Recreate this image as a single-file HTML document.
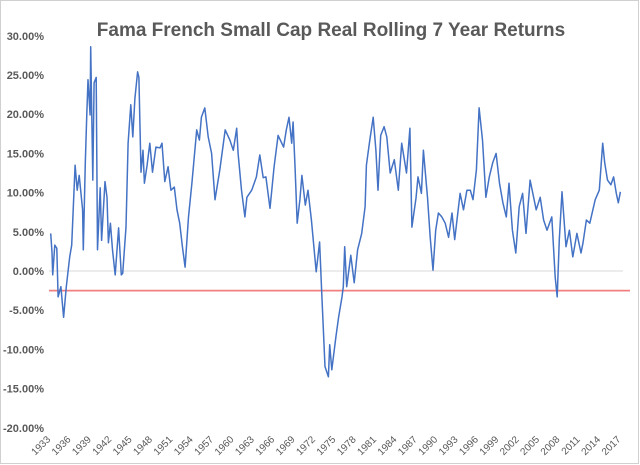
<!DOCTYPE html>
<html><head><meta charset="utf-8"><style>
body{margin:0;background:#fff;}
svg{display:block;font-family:"Liberation Sans",Arial,sans-serif;}
</style></head><body>
<svg id="chart" width="640" height="465">
<rect x="0.5" y="0.5" width="638" height="463" fill="#fff" stroke="#d0d0d0"/>
<text x="331" y="36" text-anchor="middle" font-size="19" font-weight="bold" fill="#595959">Fama French Small Cap Real Rolling 7 Year Returns</text>
<g id="yaxis"></g>
<g id="xaxis"></g>
<g id="plot"></g>
</svg>
<script>
const years=[1933.1,1933.3,1933.4,1933.7,1934.0,1934.2,1934.6,1935.0,1935.4,1935.9,1936.2,1936.7,1937.0,1937.3,1937.8,1937.9,1938.2,1938.4,1938.6,1938.9,1939.0,1939.3,1939.5,1939.8,1940.0,1940.4,1940.6,1941.1,1941.4,1941.6,1941.9,1942.2,1942.6,1943.1,1943.5,1943.7,1944.2,1944.5,1944.9,1945.2,1945.5,1945.9,1946.1,1946.4,1946.7,1946.9,1947.3,1947.7,1948.1,1948.6,1949.2,1949.5,1949.9,1950.4,1950.8,1951.3,1951.7,1952.1,1952.5,1952.9,1953.4,1953.9,1954.6,1955.0,1955.3,1955.8,1956.3,1956.8,1957.3,1958.0,1958.8,1959.5,1960.0,1960.5,1960.7,1961.2,1961.7,1962.0,1962.7,1963.4,1963.9,1964.4,1964.8,1965.4,1966.0,1966.6,1967.4,1967.8,1968.2,1968.6,1968.8,1969.1,1969.4,1969.8,1970.1,1970.6,1971.0,1971.5,1972.2,1972.7,1973.0,1973.5,1974.0,1974.2,1974.5,1975.1,1975.5,1976.0,1976.2,1976.4,1976.7,1977.3,1977.8,1978.3,1978.9,1979.4,1979.6,1980.1,1980.6,1981.0,1981.3,1981.7,1982.2,1982.6,1983.1,1983.7,1984.3,1984.8,1985.5,1986.0,1986.3,1986.9,1987.2,1987.7,1988.0,1988.6,1989.0,1989.4,1989.8,1990.2,1990.7,1991.2,1991.7,1992.2,1992.6,1993.4,1993.9,1994.4,1994.9,1995.3,1995.8,1996.2,1996.7,1997.2,1997.7,1998.2,1998.7,1999.2,1999.7,2000.2,2000.6,2001.1,2001.6,2002.1,2002.6,2003.1,2003.7,2004.6,2005.2,2005.7,2006.2,2006.9,2007.4,2007.7,2008.0,2008.4,2009.0,2009.5,2010.0,2010.6,2011.2,2011.5,2012.0,2012.5,2013.3,2013.9,2014.4,2014.7,2015.1,2015.6,2016.0,2016.4,2016.7,2017.0,2017.3];
const returns=[4.8,2.4,-0.5,3.3,2.9,-3.3,-2,-5.9,-2,1.8,3.3,13.5,10.3,12.2,7.8,2.7,13.8,19.6,24.4,19.9,28.6,11.6,24,24.7,2.7,10.6,3.9,11.4,9.4,3.6,6.1,2.7,-0.5,5.5,-0.5,-0.3,5.6,16.3,21.2,17.1,22,25.4,24.7,12.6,15.4,11.2,13.5,16.3,12.6,15.8,15.7,16.3,11.4,13.3,10.3,10.7,7.8,6.1,3.1,0.5,6.9,11.2,18,16.7,19.6,20.8,17.1,15,9.1,12.9,18,16.7,15.4,18.2,15,10.3,6.9,9.4,10.3,12,14.8,11.9,12,8,13.3,17.3,15.8,18,19.6,16.3,19,13.1,6.1,9.1,12.2,8.4,10.3,6.5,-0.1,3.7,-2.4,-12.2,-13.5,-9.4,-12.6,-8.4,-5.9,-3.3,-2,3.1,-2,2,-1.5,2.7,4.8,8.2,13.5,16.7,19.6,15.4,10.3,17.3,18.4,17.1,12.5,14.2,10.3,16.3,12.5,18.2,5.6,9.3,12,9.9,15.4,9.4,4.3,0.1,5.2,7.4,6.9,6.1,4.3,7.4,4,9.9,7.8,10.3,10.3,9.1,12.9,20.8,16.7,9.4,12,13.8,15,11.2,8.7,6.9,11.2,5.2,2.3,8.2,9.9,4.8,11.6,7.8,9.4,6.5,5.2,6.9,-0.8,-3.3,4,10.1,3.1,5.2,1.8,4.8,2.3,3.6,6.5,6.1,9.1,10.3,16.3,13.8,11.6,11,12,9.9,8.7,10.1];
const yTicks=[30,25,20,15,10,5,0,-5,-10,-15,-20];
const xTickYears=[1933,1936,1939,1942,1945,1948,1951,1954,1957,1960,1963,1966,1969,1972,1975,1978,1981,1984,1987,1990,1993,1996,1999,2002,2005,2008,2011,2014,2017];
const threshold=[-2.5];

const NS='http://www.w3.org/2000/svg';
function X(yr){return 50+(yr-1933)*6.79;}
function Y(v){return 271-v*7.84;}
function mk(t,a,p){const e=document.createElementNS(NS,t);for(const k in a)e.setAttribute(k,a[k]);p.appendChild(e);return e;}
const ya=document.getElementById('yaxis'),xa=document.getElementById('xaxis'),pl=document.getElementById('plot');
yTicks.forEach(v=>{
  const t=mk('text',{x:44,y:Y(v)+4,'text-anchor':'end','font-size':'11','font-weight':'bold',fill:'#595959'},ya);
  
  
  t.textContent=v.toFixed(2)+'%';
});
xTickYears.forEach(yr=>{
  const x=X(yr)+1,y=440;
  const t=mk('text',{x:x,y:y,'text-anchor':'end','font-size':'10',fill:'#595959',transform:'rotate(-45 '+x+' '+y+')'},xa);
  
  
  t.textContent=yr;
});
const zl=mk('line',{x1:49,x2:623,y1:Y(0),y2:Y(0),stroke:'#d9d9d9','stroke-width':1},pl);


const rl=mk('line',{x1:49,x2:630,y1:Y(threshold[0]),y2:Y(threshold[0]),stroke:'#f08080','stroke-width':1.8},pl);


let d='';
years.forEach((yr,i)=>{d+=(i?'L':'M')+X(yr).toFixed(1)+' '+Y(returns[i]).toFixed(1);});
const ln=mk('path',{d:d,fill:'none',stroke:'#4472c4','stroke-width':1.5,'stroke-linejoin':'round'},pl);


</script>
</body></html>
